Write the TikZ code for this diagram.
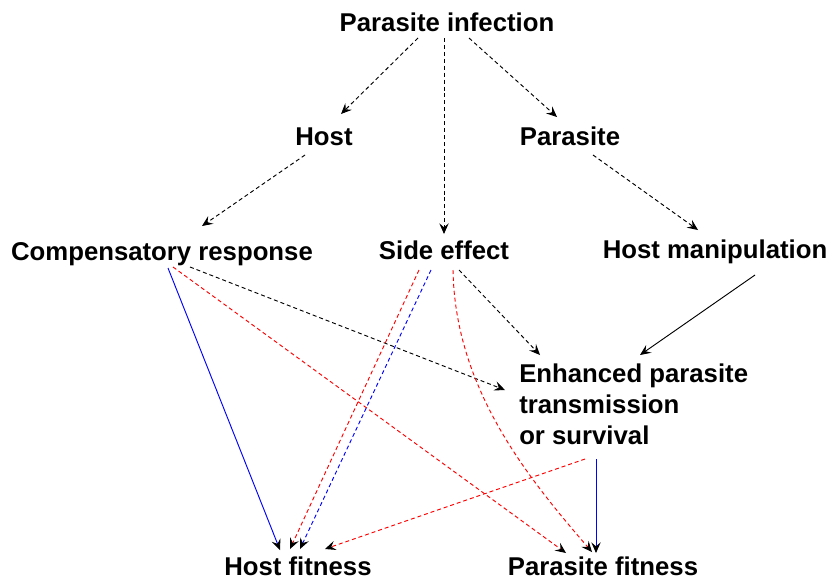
\documentclass[tikz,border=0pt]{standalone}
\usepackage{fontspec}
\setmainfont{Liberation Sans}
\usetikzlibrary{arrows.meta}
\begin{document}
\begin{tikzpicture}[x=0.75pt,y=-0.75pt,
  lbl/.style={font=\fontsize{19.3}{23.25}\selectfont\bfseries, inner sep=0pt, anchor=base},
  conn/.style={-{Stealth[length=8pt,width=7pt,inset=3pt,color=black]}, line width=0.7pt},
  dsh/.style={dash pattern=on 3pt off 2.2pt},
  blk/.style={black},
  redc/.style={red},
  bluec/.style={blue}]
\useasboundingbox (0,0) rectangle (827,579);
% nodes
\node[lbl] (pi) at (447,31) {Parasite infection};
\node[lbl] (host) at (324,145) {Host};
\node[lbl] (par) at (570,145) {Parasite};
\node[lbl] (comp) at (162,260) {Compensatory response};
\node[lbl] (side) at (444,259) {Side effect};
\node[lbl] (manip) at (715,258) {Host manipulation};
\node[lbl, anchor=north west, align=left] (enh) at (519,364) {Enhanced parasite\\transmission\\or survival};
\node[lbl] (hf) at (298,575) {Host fitness};
\node[lbl] (pf) at (603,575) {Parasite fitness};
% endpoints
\coordinate (piL) at (418,38);
\coordinate (piM) at (444,38);
\coordinate (piR) at (469,38);
\coordinate (hostIn) at (341,114);
\coordinate (parIn) at (557,117);
\coordinate (sideIn) at (444,234);
\coordinate (hostOut) at (305,155);
\coordinate (parOut) at (593,155);
\coordinate (compIn) at (202,226);
\coordinate (manipIn) at (698,230);
\coordinate (compA) at (168,268);
\coordinate (compB) at (173,267);
\coordinate (compC) at (190,267);
\coordinate (sideA) at (419,270);
\coordinate (sideB) at (431,270);
\coordinate (sideC) at (453,270);
\coordinate (sideD) at (459,270);
\coordinate (manipOut) at (755,275);
\coordinate (enhInA) at (505,390);
\coordinate (enhInB) at (540,355);
\coordinate (enhInC) at (640,355);
\coordinate (enhOutA) at (585,459);
\coordinate (enhOutB) at (596,459);
\coordinate (hfA) at (280,550);
\coordinate (hfB) at (290,549);
\coordinate (hfC) at (300,549);
\coordinate (hfD) at (325,549);
\coordinate (pfA) at (566,553);
\coordinate (pfB) at (592,552);
\coordinate (pfC) at (596,553);
% connectors
\draw[conn,dsh,blk] (piL) -- (hostIn);
\draw[conn,dsh,blk] (piR) -- (parIn);
\draw[conn,dsh,blk] (piM) -- (sideIn);
\draw[conn,dsh,blk] (hostOut) -- (compIn);
\draw[conn,dsh,blk] (parOut) -- (manipIn);
\draw[conn,dsh,blk] (compC) -- (enhInA);
\draw[conn,dsh,blk] (sideD) -- (enhInB);
\draw[conn,blk] (manipOut) -- (enhInC);
\draw[conn,bluec] (compA) -- (hfA);
\draw[conn,dsh,redc] (compB) -- (pfA);
\draw[conn,dsh,redc] (sideA) -- (hfB);
\draw[conn,dsh,bluec] (sideB) -- (hfC);
\draw[conn,dsh,redc] (sideC) .. controls (455,390) and (530,480) .. (pfB);
\draw[conn,dsh,redc] (enhOutA) -- (hfD);
\draw[conn,bluec] (enhOutB) -- (pfC);
\end{tikzpicture}
\end{document}
